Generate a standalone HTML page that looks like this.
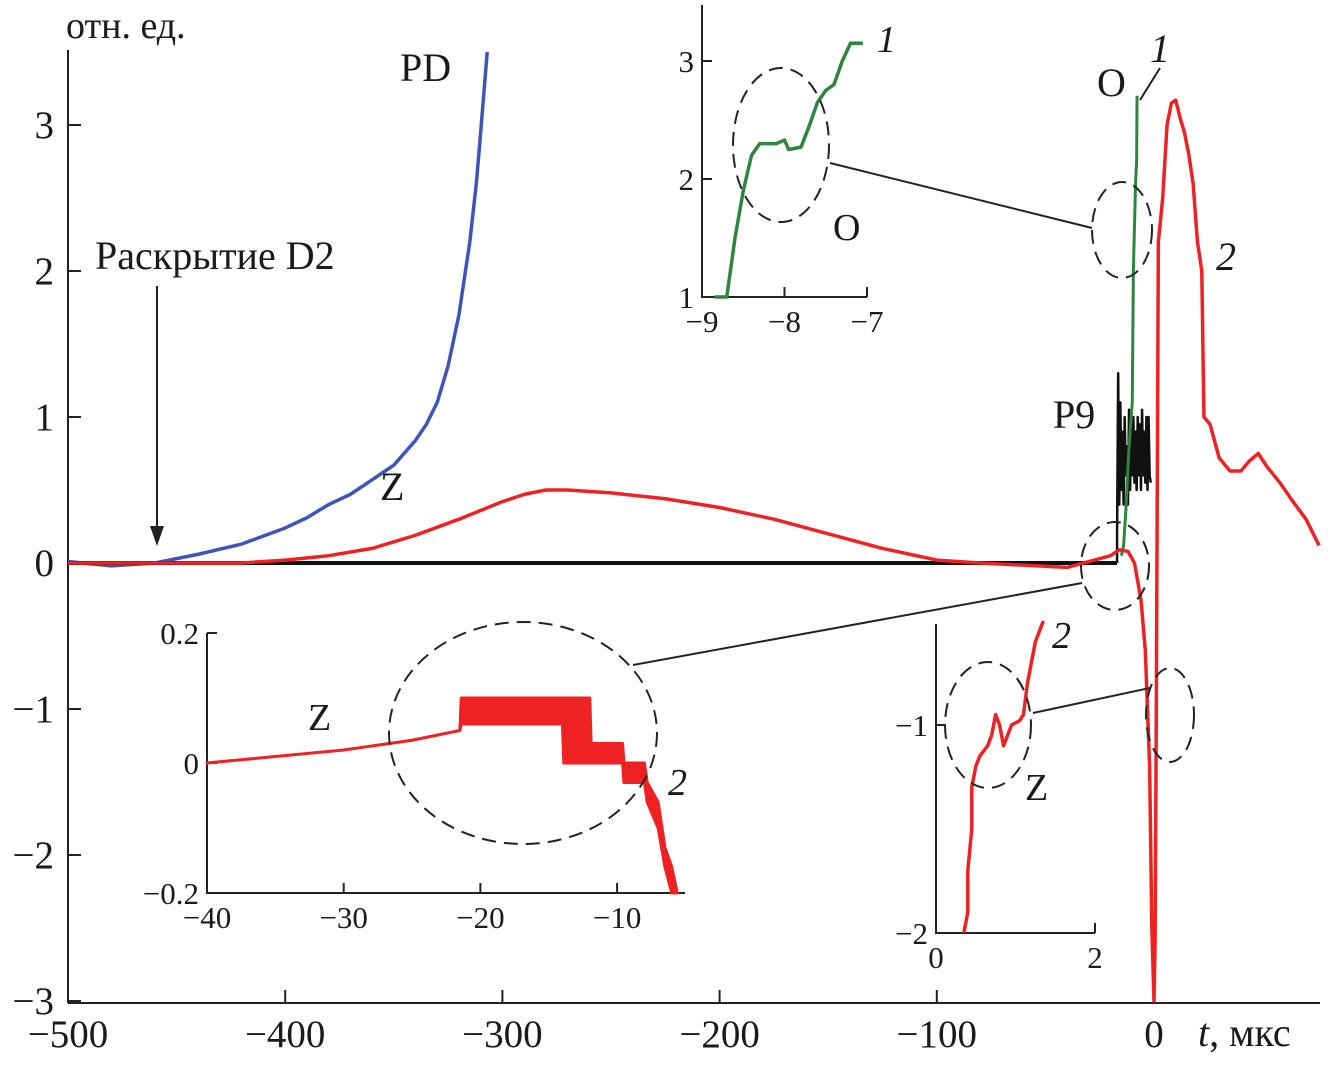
<!DOCTYPE html>
<html><head><meta charset="utf-8"><style>
body{margin:0;background:#fff}
svg text{font-family:"Liberation Serif",serif;fill:#1a1a1a}
</style></head><body>
<svg id="c" width="1335" height="1063" viewBox="0 0 1335 1063" xmlns="http://www.w3.org/2000/svg">
<g id="axes"></g>
<g id="series"></g>
<g id="ins"></g>
<g fill="none" stroke="#222" stroke-width="2" stroke-dasharray="14 8">
<ellipse cx="781" cy="145" rx="48" ry="77"/>
<ellipse cx="1122" cy="230" rx="30" ry="48"/>
<ellipse cx="523" cy="733" rx="134" ry="111"/>
<ellipse cx="1115" cy="566" rx="34" ry="44"/>
<ellipse cx="988" cy="725" rx="43" ry="63"/>
<ellipse cx="1170" cy="715" rx="24" ry="47"/>
</g>
<g stroke="#222" stroke-width="2">
<line x1="830" y1="163" x2="1092" y2="228"/>
<line x1="633" y1="665" x2="1082" y2="583"/>
<line x1="1033" y1="713" x2="1150" y2="688"/>
<line x1="1140" y1="100" x2="1160" y2="68"/>
</g>
<g font-size="40">
<text x="66" y="38" font-size="38">отн. ед.</text>
<text x="400" y="81">PD</text>
<text x="380" y="500">Z</text>
<text x="95" y="269">Раскрытие D2</text>
<text x="1097" y="96">O</text>
<text x="1150" y="62" font-style="italic">1</text>
<text x="1216" y="270" font-style="italic">2</text>
<text x="1053" y="428">P9</text>
<text x="1198" y="1046"><tspan font-style="italic">t</tspan>, мкс</text>
</g>
<g>
<line x1="157" y1="286" x2="157" y2="528" stroke="#222" stroke-width="2"/>
<polygon points="150,526 164,526 157,546" fill="#222"/>
</g>
</svg>
<script>
// main chart data
const pdT=[-500,-480,-460,-450,-440,-420,-400,-390,-380,-370,-360,-350,-340,-335,-330,-325,-320,-315,-312,-310,-307];
const pdV=[0.01,-0.02,0,0.03,0.06,0.13,0.24,0.31,0.4,0.47,0.57,0.67,0.84,0.95,1.1,1.35,1.7,2.2,2.6,2.95,3.5];
const zT=[-500,-420,-400,-380,-360,-340,-320,-300,-290,-280,-270,-250,-225,-200,-175,-150,-125,-100,-80,-40,-20,-16,-12,-9,-6,-4,-2,-1,0,0.5,1,1.5,2,4,6,8,10,12,14,16,18,20,22,23,25.8,30,35,40,44,48,52,58,64,70,76];
const zV=[0,0,0.02,0.05,0.1,0.19,0.3,0.42,0.47,0.5,0.5,0.48,0.44,0.38,0.3,0.2,0.1,0.02,0,-0.03,0.05,0.09,0.08,0,-0.25,-0.6,-1.4,-2.5,-3,-2.6,-1.2,0.5,2.2,2.5,3.0,3.15,3.17,3.05,2.95,2.8,2.6,2.2,2.0,1.0,0.95,0.72,0.63,0.63,0.7,0.75,0.66,0.55,0.42,0.3,0.12];
const p9T=[-500,-17];
const p9V=[0,0];
const burstV=[0.2,1.3,0.4,1.1,0.5,0.9,0.4,1.0,0.6,0.8,0.4,1.05,0.5,0.95,0.6,1.0,0.55,0.9,0.5,1.0,0.6,0.95,0.5,1.05,0.6,0.9,0.55,1.0,0.5,1.0,0.6,0.55];
const oT=[-15,-14,-13,-11.5,-10,-9.5,-9,-8.5,-8,-7.8];
const oV=[0.05,0.12,0.35,0.8,1.1,2.0,2.3,2.6,2.75,3.2];
const xTicks=[-500,-400,-300,-200,-100,0];
const yTicks=[-3,-2,-1,0,1,2,3];
// inset data
const insOT=[-8.85,-8.7,-8.6,-8.5,-8.4,-8.3,-8.1,-8,-7.95,-7.8,-7.7,-7.6,-7.5,-7.4,-7.3,-7.2,-7.05];
const insOV=[1.0,1.0,1.5,1.9,2.2,2.3,2.3,2.33,2.25,2.27,2.45,2.65,2.75,2.8,3.0,3.15,3.15];
const insZT=[-40,-35,-30,-25,-21.5,-21.4,-14,-13.9,-12,-11.9,-9.6,-9.5,-8,-7.8,-7,-6.5,-6,-5.6];
const insZHi=[0,0.01,0.02,0.035,0.05,0.1,0.1,0.1,0.1,0.03,0.03,0.0,0.0,-0.03,-0.06,-0.13,-0.16,-0.2];
const insZLo=[0,0.01,0.02,0.035,0.05,0.06,0.06,0,0,0,0,-0.03,-0.03,-0.06,-0.1,-0.16,-0.2,-0.2];
const insRT=[0.35,0.4,0.4,0.45,0.45,0.5,0.55,0.65,0.7,0.75,0.8,0.85,0.9,0.95,1.05,1.1,1.15,1.2,1.25,1.35];
const insRV=[-2,-1.9,-1.7,-1.5,-1.3,-1.2,-1.15,-1.1,-1.05,-0.95,-1.0,-1.1,-1.05,-1.0,-0.98,-0.95,-0.8,-0.7,-0.6,-0.5];

const NS='http://www.w3.org/2000/svg';
function mk(tag,attrs,parent){const e=document.createElementNS(NS,tag);for(const k in attrs)e.setAttribute(k,attrs[k]);parent.appendChild(e);return e;}
const X=t=>68+(t+500)*2.172, Y=v=>563-v*146;
const axes=document.getElementById('axes'), ser=document.getElementById('series'), ins=document.getElementById('ins');
let l=mk('line',{x1:68,y1:50,x2:68,y2:1003,stroke:'#222','stroke-width':2},axes);


l=mk('line',{x1:68,y1:1003,x2:1320,y2:1003,stroke:'#222','stroke-width':2},axes);


xTicks.forEach(t=>{mk('line',{x1:X(t),y1:1003,x2:X(t),y2:990,stroke:'#222','stroke-width':2},axes);
 const tx=mk('text',{x:X(t),y:1047,'text-anchor':'middle','font-size':39},axes);tx.textContent=t<0?'−'+(-t):t;
 
 });
yTicks.forEach(v=>{mk('line',{x1:68,y1:Y(v),x2:81,y2:Y(v),stroke:'#222','stroke-width':2},axes);
 const tx=mk('text',{x:54,y:Y(v)+13,'text-anchor':'end','font-size':39},axes);tx.textContent=v<0?'−'+(-v):v;
 
 });
function line(T,V,fx,fy,col,w,parent){return mk('polyline',{points:T.map((t,i)=>fx(t)+','+fy(V[i])).join(' '),fill:'none',stroke:col,'stroke-width':w,'stroke-linejoin':'round'},parent);}
let p=line(pdT,pdV,X,Y,'#3f55b5',3.5,ser);


p=line(p9T,p9V,X,Y,'#111',4,ser);


const bT=burstV.map((v,i)=>-17+i*0.5);
p=line([-17].concat(bT),[0].concat(burstV),X,Y,'#111',2.5,ser);


p=line(oT,oV,X,Y,'#2e8540',3,ser);


p=line(zT,zV,X,Y,'#ee2222',3.5,ser);



function inset(name,x0,y0,x1,y1,xt,xl,yt,yl,fx,fy){
 const g=mk('g',{},ins);
 
 
 mk('polyline',{points:`${x0},${y0} ${x0},${y1} ${x1},${y1}`,fill:'none',stroke:'#222','stroke-width':2},g);
 xt.forEach((t,i)=>{mk('line',{x1:fx(t),y1:y1,x2:fx(t),y2:y1-10,stroke:'#222','stroke-width':2},g);
  const tx=mk('text',{x:fx(t),y:y1+35,'text-anchor':'middle','font-size':31},g);tx.textContent=xl[i];});
 yt.forEach((v,i)=>{mk('line',{x1:x0,y1:fy(v),x2:x0+10,y2:fy(v),stroke:'#222','stroke-width':2},g);
  const tx=mk('text',{x:x0-8,y:fy(v)+11,'text-anchor':'end','font-size':31},g);tx.textContent=yl[i];});
 return g;}
const oX=t=>702+(t+9)*82.5, oY=v=>297-(v-1)*118;
let g=inset('inset-o',702,5,867,297,[-9,-8,-7],['−9','−8','−7'],[1,2,3],['1','2','3'],oX,oY);
p=line(insOT,insOV,oX,oY,'#2e8540',3.5,g);


let t=mk('text',{x:877,y:52,'font-size':38,'font-style':'italic'},g);t.textContent='1';
t=mk('text',{x:833,y:240,'font-size':38},g);t.textContent='O';
const zX=t=>207+(t+40)*13.67, zY=v=>763-v*650;
g=inset('inset-z',207,633,685,893,[-40,-30,-20,-10],['−40','−30','−20','−10'],[-0.2,0,0.2],['−0.2','0','0.2'],zX,zY);
p=mk('polygon',{points:insZT.map((t,i)=>zX(t)+','+zY(insZHi[i])).concat(insZT.slice().reverse().map((t,i)=>zX(t)+','+zY(insZLo[insZT.length-1-i]))).join(' '),fill:'#ee2222',stroke:'#ee2222','stroke-width':3,'stroke-linejoin':'round'},g);


t=mk('text',{x:308,y:730,'font-size':38},g);t.textContent='Z';
t=mk('text',{x:668,y:795,'font-size':38,'font-style':'italic'},g);t.textContent='2';
const rX=t=>936+t*79.5, rY=v=>725-(v+1)*208;
g=inset('inset-z2',936,624,1095,933,[0,2],['0','2'],[-2,-1],['−2','−1'],rX,rY);
p=line(insRT,insRV,rX,rY,'#ee2222',3.5,g);


t=mk('text',{x:1052,y:648,'font-size':38,'font-style':'italic'},g);t.textContent='2';
t=mk('text',{x:1025,y:800,'font-size':38},g);t.textContent='Z';
</script>
</body></html>
